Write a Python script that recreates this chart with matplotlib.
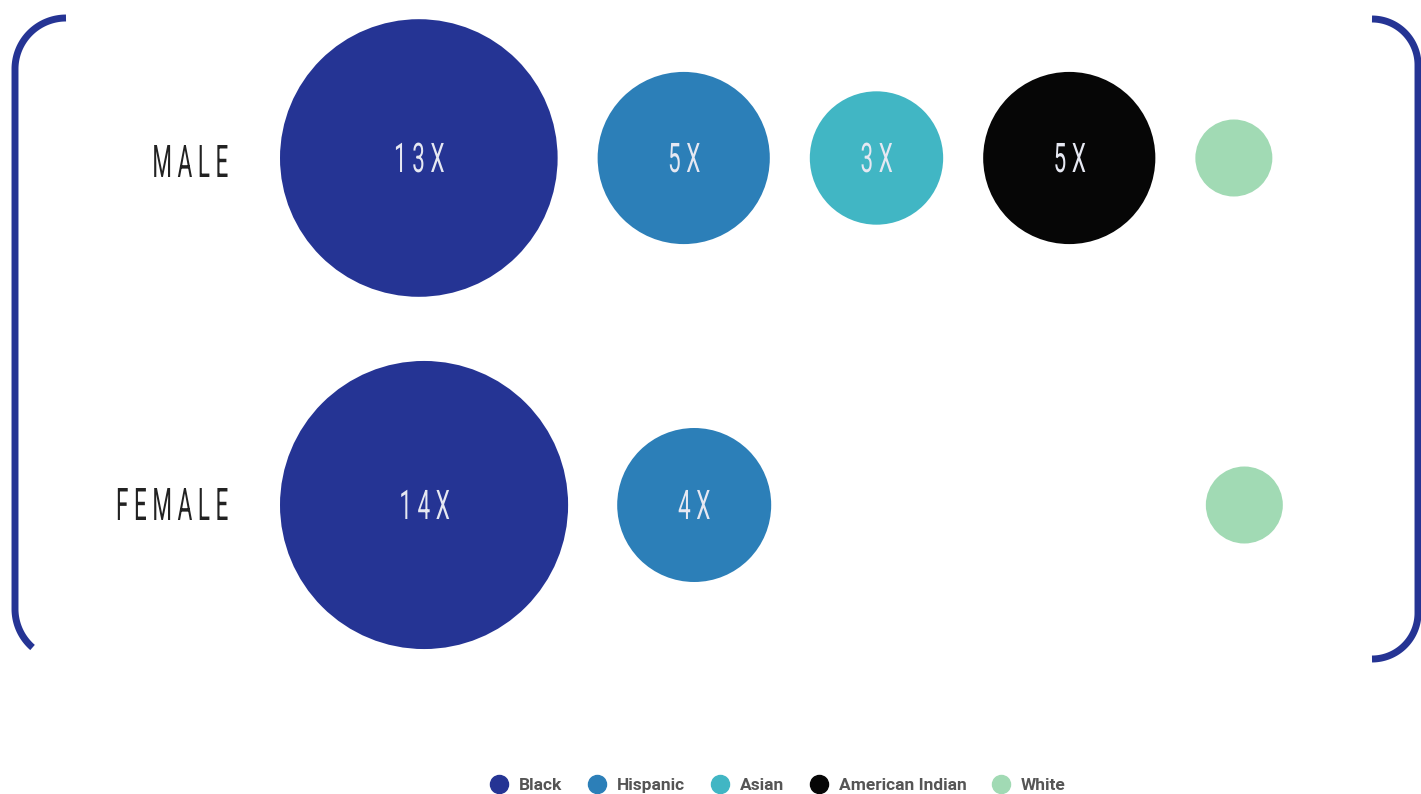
import numpy as np
import matplotlib.pyplot as plt
from matplotlib.patches import Circle
from matplotlib.lines import Line2D
from matplotlib.patheffects import AbstractPathEffect
from matplotlib.transforms import Affine2D

# relative rate vs White, per group (None = not shown)
groups = ["Black", "Hispanic", "Asian", "American Indian", "White"]
male_rates = [13, 5, 3, 5, 1]
female_rates = [14, 4, None, None, 1]
rows = ["MALE", "FEMALE"]
colors = ["#253494", "#2c7fb8", "#41b6c4", "#060606", "#a1dab4"]


class Squeeze(AbstractPathEffect):
    """Draw text condensed horizontally around one edge (or its middle)."""

    def __init__(self, sx, anchor="center"):
        super().__init__()
        self.sx = sx
        self.anchor = anchor

    def draw_path(self, renderer, gc, tpath, affine, rgbFace=None):
        ext = tpath.get_extents()
        a = {"left": ext.x0, "right": ext.x1}.get(self.anchor, (ext.x0 + ext.x1) / 2)
        sq = Affine2D().translate(-a, 0).scale(self.sx, 1).translate(a, 0)
        renderer.draw_path(gc, tpath, sq + affine, rgbFace)


W, H = 1421, 794
fig = plt.figure(figsize=(W / 100, H / 100), dpi=100)
ax = fig.add_axes([0, 0, 1, 1])
ax.set_xlim(0, W)
ax.set_ylim(H, 0)
ax.set_aspect("equal")
ax.axis("off")

k = 38.5      # radius of a 1X bubble in px
gap = 40
x0 = 280
row_y = [158, 505]
bracket = "#253494"


def arc(cx, cy, r, t0, t1):
    t = np.radians(np.linspace(t0, t1, 60))
    return cx + r * np.cos(t), cy + r * np.sin(t)


# bracket on the left
ax0, ay0 = arc(66, 69, 51, 270, 180)
ax1, ay1 = arc(66, 609, 51, 180, 131)
ax.plot(np.r_[ax0, ax1], np.r_[ay0, ay1], color=bracket, lw=5,
        solid_capstyle="butt", solid_joinstyle="round")

# bracket on the right
bx0, by0 = arc(1372, 65, 46, 270, 360)
bx1, by1 = arc(1372, 613, 46, 0, 90)
ax.plot(np.r_[bx0, bx1], np.r_[by0, by1], color=bracket, lw=5,
        solid_capstyle="butt", solid_joinstyle="round")

male_r = [k * np.sqrt(v) for v in male_rates]

for row, rates, y, base in zip(rows, [male_rates, female_rates], row_y, [177, 520]):
    ax.text(229, base, " ".join(row), ha="right", va="baseline", fontsize=32.4,
            family="Roboto", weight="normal", color="#222222",
            path_effects=[Squeeze(0.5, "right")])
    left = x0
    for i, v in enumerate(rates):
        r = k * np.sqrt(v) if v is not None else 0
        slot = max(r, male_r[i])
        cx = left + slot
        if v is not None:
            ax.add_patch(Circle((cx, y), r, color=colors[i], lw=0))
            if v > 1:
                ax.text(cx, y + 14, " ".join(f"{v}X"), ha="center", va="baseline",
                        fontsize=29.4, family="Roboto", weight="normal",
                        color="#e6e8f2", path_effects=[Squeeze(0.55)])
        left = cx + slot + gap

handles = [Line2D([], [], marker="o", ls="", markersize=13, color=c) for c in colors]
leg = ax.legend(handles, groups, loc="center", bbox_to_anchor=(777, 785),
                bbox_transform=ax.transData, ncol=5, frameon=False,
                handlelength=1.2, handletextpad=0.55, columnspacing=1.4,
                prop={"family": "Roboto", "weight": "bold", "size": 12.5})
for t in leg.get_texts():
    t.set_color("#555555")

fig.savefig("out.png", dpi=100)
